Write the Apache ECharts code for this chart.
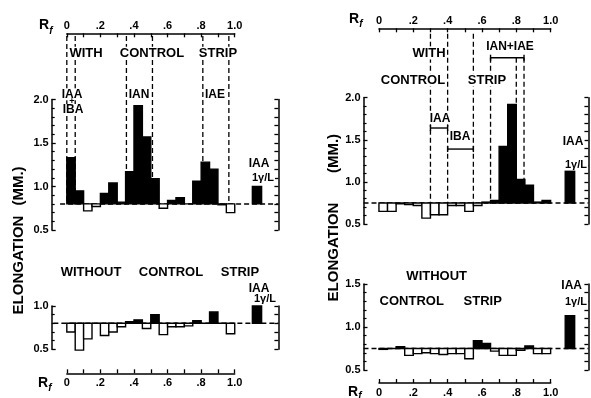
<!DOCTYPE html>
<html><head><meta charset="utf-8">
<script src="https://cdn.jsdelivr.net/npm/echarts@6/dist/echarts.min.js"></script>
<style>html,body{margin:0;padding:0;background:#fff}#c{width:591px;height:398px}</style>
</head><body><div id="c"></div>
<script>
// ---- data (elongation in mm per Rf zone of 0.05) ----
const binWidth = 0.05;
const rfTickLabels = ['0', '.2', '.4', '.6', '.8', '1.0'];
// left figure
const leftWithStrip    = [1.33, 0.95, 0.72, 0.77, 0.92, 1.04, 0.82, 1.17, 1.93, 1.57, 1.09, 0.75, 0.84, 0.87, 0.80, 1.06, 1.28, 1.20, 0.79, 0.70];
const leftWithoutStrip = [0.70, 0.49, 0.62, 0.80, 0.66, 0.70, 0.76, 0.82, 0.84, 0.74, 0.90, 0.67, 0.76, 0.76, 0.77, 0.83, 0.80, 0.93, 0.80, 0.68];
const leftIAAWith = 1.00, leftIAAWithout = 1.00;
const leftControl = 0.80;
// right figure
const rightWithStrip    = [0.65, 0.65, 0.74, 0.73, 0.72, 0.57, 0.61, 0.61, 0.72, 0.72, 0.65, 0.72, 0.76, 0.78, 1.42, 1.92, 1.03, 0.96, 0.76, 0.78];
const rightWithoutStrip = [0.74, 0.75, 0.77, 0.67, 0.69, 0.70, 0.69, 0.68, 0.69, 0.69, 0.63, 0.84, 0.81, 0.72, 0.67, 0.67, 0.73, 0.78, 0.69, 0.69];
const rightIAAWith = 1.13, rightIAAWithout = 1.13;
const rightControl = 0.75;
// reference IAA bar Rf span
const leftIAASpan = [1.105, 1.16];
const rightIAASpan = [1.085, 1.14];
// zone marker lines (Rf)
const leftZoneLines = [0, 0.05, 0.355, 0.51, 0.81, 0.965];
const rightZoneLinesTop = [0.30, 0.40, 0.55];
const rightZoneLinesLow = [0.65, 0.80, 0.845];
// brackets [Rf from, Rf to, height]
const rightBrackets = [[0.30, 0.40, 1.64], [0.40, 0.55, 1.39], [0.65, 0.845, 2.475]];

const FF = '"Liberation Sans", Arial, sans-serif';
function toBins(vals, iaa, span) {
  const d = vals.map((v, i) => [i * binWidth, (i + 1) * binWidth, v]);
  d.push([span[0], span[1], iaa]);
  return d;
}
function barRender(base) {
  return function (params, api) {
    const x0 = api.value(0), x1 = api.value(1), v = api.value(2);
    const a = api.coord([x0, Math.max(v, base)]);
    const b = api.coord([x1, Math.min(v, base)]);
    return {type: 'rect', shape: {x: a[0], y: a[1], width: b[0] - a[0], height: Math.max(b[1] - a[1], 0)},
      style: {fill: v > base ? '#000' : '#fff', stroke: '#000', lineWidth: 1.4}};
  };
}
function vlineRender(params, api) {
  const a = api.coord([api.value(0), api.value(1)]);
  const b = api.coord([api.value(0), api.value(2)]);
  return {type: 'line', shape: {x1: a[0], y1: a[1], x2: b[0], y2: b[1]},
    style: {stroke: '#000', lineWidth: 1.3, lineDash: [5, 3]}};
}
function bracketRender(params, api) {
  const a = api.coord([api.value(0), api.value(2)]);
  const b = api.coord([api.value(1), api.value(2)]);
  const s = {stroke: '#000', lineWidth: 1.4};
  return {type: 'group', children: [
    {type: 'line', shape: {x1: a[0], y1: a[1], x2: b[0], y2: b[1]}, style: s},
    {type: 'line', shape: {x1: a[0], y1: a[1] - 3, x2: a[0], y2: a[1] + 3}, style: s},
    {type: 'line', shape: {x1: b[0], y1: b[1] - 3, x2: b[0], y2: b[1] + 3}, style: s}
  ]};
}
const labelStyle = {color: '#000', fontSize: 11, fontWeight: 'bold', fontFamily: FF};
const axLine = {show: true, onZero: false, lineStyle: {color: '#000', width: 1.5}};

const plotGrids = [
  {left: 51.7, top: 99.5, width: 226.7, height: 130.5},
  {left: 51.7, top: 306, width: 226.7, height: 43.3},
  {left: 363.5, top: 97.7, width: 224.9, height: 126.3},
  {left: 363.5, top: 284, width: 224.9, height: 86}
];
const rfGrids = [
  {left: 66.8, top: 33.3, width: 167.9, height: 10, pos: 'top'},
  {left: 66.8, top: 363.3, width: 167.9, height: 10, pos: 'bottom'},
  {left: 379, top: 28.3, width: 171.7, height: 10, pos: 'top'},
  {left: 379, top: 374.3, width: 171.7, height: 10, pos: 'bottom'}
];
const plotX = [[-0.09, 1.26], [-0.09, 1.26], [-0.09, 1.22], [-0.09, 1.22]];
const plotY = [[0.5, 2.0], [0.5, 1.0], [0.5, 2.0], [0.5, 1.5]];

const grid = [], xAxis = [], yAxis = [], series = [];
plotGrids.forEach((g, i) => {
  grid.push({left: g.left, top: g.top, width: g.width, height: g.height});
  xAxis.push({gridIndex: i, type: 'value', min: plotX[i][0], max: plotX[i][1], show: false});
  yAxis.push({gridIndex: i, type: 'value', position: 'left', min: plotY[i][0], max: plotY[i][1], interval: 0.5,
    axisLine: axLine, axisTick: {show: true, inside: true, length: 4, lineStyle: {color: '#000', width: 1.3}},
    minorTick: {show: true, splitNumber: 5, length: 3, lineStyle: {color: '#000', width: 1.2}},
    axisLabel: Object.assign({margin: 3, formatter: v => v.toFixed(1)}, labelStyle),
    splitLine: {show: false}});
  yAxis.push({gridIndex: i, type: 'value', position: 'right', min: plotY[i][0], max: plotY[i][1], interval: 0.1,
    axisLine: axLine, axisTick: {show: true, inside: true, length: 4, lineStyle: {color: '#000', width: 1.3}},
    axisLabel: {show: false}, splitLine: {show: false}});
});
rfGrids.forEach((g, k) => {
  const gi = grid.length;
  grid.push({left: g.left, top: g.top, width: g.width, height: g.height});
  xAxis.push({gridIndex: gi, type: 'value', position: g.pos, min: 0, max: 1, interval: 0.1,
    axisLine: axLine, axisTick: {show: true, inside: true, length: 4, lineStyle: {color: '#000', width: 1.3}},
    axisLabel: Object.assign({margin: g.pos === 'top' ? 2 : 4, showMinLabel: true, showMaxLabel: true,
      formatter: v => { const r = Math.round(v * 10); return r % 2 ? '' : rfTickLabels[r / 2]; }}, labelStyle),
    splitLine: {show: false}});
  yAxis.push({gridIndex: gi, type: 'value', min: 0, max: 1, show: false});
});

const panels = [
  {vals: leftWithStrip, iaa: leftIAAWith, span: leftIAASpan, base: leftControl, from: -0.04},
  {vals: leftWithoutStrip, iaa: leftIAAWithout, span: leftIAASpan, base: leftControl, from: -0.08},
  {vals: rightWithStrip, iaa: rightIAAWith, span: rightIAASpan, base: rightControl, from: -0.09},
  {vals: rightWithoutStrip, iaa: rightIAAWithout, span: rightIAASpan, base: rightControl, from: -0.09}
];
panels.forEach((p, i) => {
  series.push({type: 'line', xAxisIndex: i, yAxisIndex: i * 2, z: 2, symbol: 'none', silent: true, animation: false,
    data: [[p.from, p.base], [plotX[i][1], p.base]], lineStyle: {color: '#000', width: 1.5, type: [5, 3]}});
  series.push({type: 'custom', xAxisIndex: i, yAxisIndex: i * 2, z: 3, animation: false,
    renderItem: barRender(p.base), encode: {x: [0, 1], y: 2}, data: toBins(p.vals, p.iaa, p.span)});
});
series.push({type: 'custom', xAxisIndex: 0, yAxisIndex: 0, z: 1, clip: false, animation: false,
  renderItem: vlineRender, encode: {x: 0, y: [1, 2]}, data: leftZoneLines.map(x => [x, 2.73, leftControl])});
series.push({type: 'custom', xAxisIndex: 2, yAxisIndex: 4, z: 1, clip: false, animation: false,
  renderItem: vlineRender, encode: {x: 0, y: [1, 2]},
  data: rightZoneLinesTop.map(x => [x, 2.76, rightControl]).concat(rightZoneLinesLow.map(x => [x, 2.475, rightControl]))});
series.push({type: 'custom', xAxisIndex: 2, yAxisIndex: 4, z: 4, clip: false, animation: false,
  renderItem: bracketRender, encode: {x: [0, 1], y: 2}, data: rightBrackets});

function T(text, x, y, size, opt) {
  opt = opt || {};
  return {type: 'text', x: x, y: y, z: 100, rotation: opt.rot || 0,
    style: {text: text, fill: '#000', font: (opt.italic ? 'italic ' : '') + 'bold ' + size + 'px ' + FF,
      align: 'center', verticalAlign: 'middle', backgroundColor: opt.nobg ? null : '#fff', padding: opt.nobg ? 0 : [0, 1]}};
}
const graphic = [
  // left figure
  T('R', 44, 25, 14, {nobg: 1}), T('f', 51, 31, 10, {italic: 1, nobg: 1}),
  T('WITH', 86, 53.3, 13), T('CONTROL', 152, 53.3, 13), T('STRIP', 218, 53.3, 13),
  T('IAA', 72, 94.3, 12), T('+', 72, 101.5, 9, {nobg: 1}), T('IBA', 73, 110, 12),
  T('IAN', 139, 94.3, 12, {nobg: 1}), T('IAE', 215, 94.3, 12, {nobg: 1}),
  T('IAA', 259, 163.3, 12), T('1γ/L', 263, 178.3, 11),
  T('WITHOUT', 91, 272, 13), T('CONTROL', 171, 272, 13), T('STRIP', 240, 272, 13),
  T('IAA', 259, 288.3, 12), T('1γ/L', 265, 299.3, 11, {nobg: 1}),
  T('R', 43, 383, 14, {nobg: 1}), T('f', 50, 388, 10, {italic: 1, nobg: 1}),
  T('ELONGATION', 19, 265, 15, {rot: Math.PI / 2, nobg: 1}), T('(MM.)', 19, 186, 15, {rot: Math.PI / 2, nobg: 1}),
  // right figure
  T('R', 354, 19, 14, {nobg: 1}), T('f', 361, 24, 10, {italic: 1, nobg: 1}),
  T('WITH', 429, 53, 13), T('CONTROL', 413, 80, 13), T('STRIP', 487, 80, 13),
  T('IAN+IAE', 510, 46.7, 12),
  T('IAA', 440, 118.3, 12), T('IBA', 460, 136.7, 12),
  T('IAA', 573, 141.7, 12), T('1γ/L', 576, 165, 11),
  T('WITHOUT', 436.7, 276, 13), T('CONTROL', 411.7, 301.7, 13), T('STRIP', 482.7, 301.7, 13),
  T('IAA', 571.7, 286, 12), T('1γ/L', 576, 301.7, 11),
  T('R', 353, 392, 14, {nobg: 1}), T('f', 360, 396, 10, {italic: 1, nobg: 1}),
  T('ELONGATION', 334, 252, 15, {rot: Math.PI / 2, nobg: 1}), T('(MM.)', 334, 153.5, 15, {rot: Math.PI / 2, nobg: 1})
];

const chart = echarts.init(document.getElementById('c'), null, {renderer: 'canvas'});
chart.setOption({animation: false, backgroundColor: '#fff', grid, xAxis, yAxis, series, graphic});
</script></body></html>
